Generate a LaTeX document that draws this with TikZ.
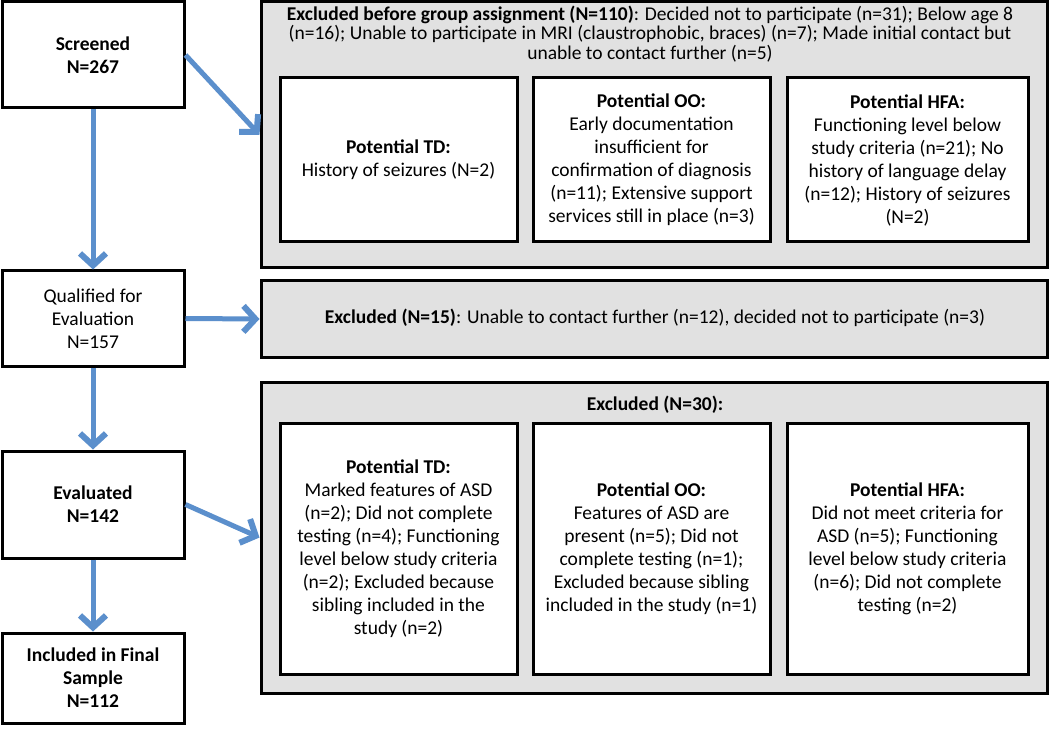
\documentclass[tikz,border=0pt]{standalone}
\usepackage{fontspec}
\setmainfont{Carlito}
\usetikzlibrary{arrows.meta}
\definecolor{arrowblue}{HTML}{5B8FCC}
\definecolor{grayfill}{HTML}{E1E1E1}
\begin{document}
\begin{tikzpicture}[x=1pt,y=-1pt,
 graybox/.style={draw=black, line width=3pt, fill=grayfill, inner sep=0pt},
 whitebox/.style={draw=black, line width=3pt, fill=white, inner sep=0pt},
 txt/.style={align=center, font=\fontsize{19.5}{23}\selectfont, inner sep=0pt},
 toptxt/.style={align=center, font=\fontsize{19.5}{19.5}\selectfont, inner sep=0pt},
 flow/.style={draw=arrowblue, line width=5pt, -{Straight Barb[length=12pt,width=26pt,line width=6pt]}}
]
\useasboundingbox[fill=white] (0,0) rectangle (1050,738);

% left column
\node[whitebox, minimum width=182pt, minimum height=106pt, txt] (scr) at (93,55) {\textbf{Screened}\\\textbf{N=267}};
\node[whitebox, minimum width=182pt, minimum height=95pt, txt] (qual) at (93,318.5) {Qualified for\\Evaluation\\N=157};
\node[whitebox, minimum width=182pt, minimum height=107pt, txt] (eval) at (93,504.5) {\textbf{Evaluated}\\\textbf{N=142}};
\node[whitebox, minimum width=182pt, minimum height=90pt, txt] (incl) at (93,678) {\textbf{Included in Final}\\\textbf{Sample}\\\textbf{N=112}};

% gray containers
\node[graybox, minimum width=786.5pt, minimum height=266.5pt] (g1) at (654.25,134.75) {};
\node[graybox, minimum width=786.5pt, minimum height=76pt] (g2) at (654.25,319) {};
\node[graybox, minimum width=786.5pt, minimum height=311pt] (g3) at (654.25,537.5) {};

\node[toptxt] (g1t) at (650,34) {\textbf{Excluded before group assignment (N=110)}: Decided not to participate (n=31); Below age 8\\(n=16); Unable to participate in MRI (claustrophobic, braces) (n=7); Made initial contact but\\unable to contact further (n=5)};
\node[txt] (g2t) at (655,318) {\textbf{Excluded (N=15)}: Unable to contact further (n=12), decided not to participate (n=3)};
\node[txt] (g3t) at (655,405) {\textbf{Excluded (N=30):}};

% inner boxes, top row
\node[whitebox, minimum width=237pt, minimum height=164pt, txt] (a1) at (398.5,160) {\textbf{Potential TD:}\\History of seizures (N=2)};
\node[whitebox, minimum width=237pt, minimum height=164pt, txt] (a2) at (651.5,160) {\textbf{Potential OO:}\\Early documentation\\insufficient for\\confirmation of diagnosis\\(n=11); Extensive support\\services still in place (n=3)};
\node[whitebox, minimum width=241pt, minimum height=164pt, txt] (a3) at (907.5,160) {\textbf{Potential HFA:}\\Functioning level below\\study criteria (n=21); No\\history of language delay\\(n=12); History of seizures\\(N=2)};

% inner boxes, bottom row
\node[whitebox, minimum width=237pt, minimum height=251pt, txt] (b1) at (398.5,548.5) {\textbf{Potential TD:}\\Marked features of ASD\\(n=2); Did not complete\\testing (n=4); Functioning\\level below study criteria\\(n=2); Excluded because\\sibling included in the\\study (n=2)};
\node[whitebox, minimum width=237pt, minimum height=251pt, txt] (b2) at (651.5,548.5) {\textbf{Potential OO:}\\Features of ASD are\\present (n=5); Did not\\complete testing (n=1);\\Excluded because sibling\\included in the study (n=1)};
\node[whitebox, minimum width=241pt, minimum height=251pt, txt] (b3) at (907.5,548.5) {\textbf{Potential HFA:}\\Did not meet criteria for\\ASD (n=5); Functioning\\level below study criteria\\(n=6); Did not complete\\testing (n=2)};

% connectors
\draw[flow] (scr.south) -- (qual.north);
\draw[flow] (scr.east) -- (g1.west);
\draw[flow] (qual.east) -- (g2.west);
\draw[flow] (qual.south) -- (eval.north);
\draw[flow] (eval.east) -- (g3.west);
\draw[flow] (eval.south) -- (incl.north);
\end{tikzpicture}
\end{document}
